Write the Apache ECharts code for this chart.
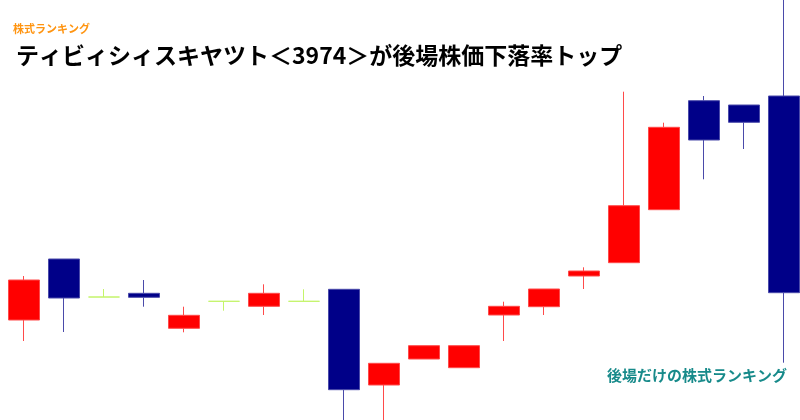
<!DOCTYPE html>
<html>
<head>
<meta charset="utf-8">
<script src="https://cdn.jsdelivr.net/npm/echarts@6/dist/echarts.min.js"></script>
<style>
html,body{margin:0;padding:0;background:#fff;overflow:hidden;width:800px;height:420px;}
#c{width:840px;height:420px;}
</style>
</head>
<body>
<div id="c"></div>
<script>
// categories (20 sessions)
var categories = ['1','2','3','4','5','6','7','8','9','10','11','12','13','14','15','16','17','18','19','20'];
// [open, close, low, high]
var opens  = [100, 161, 123, 126.7, 91.7, 118.7, 113.7, 118.7, 130.7, 35, 61, 52.3, 105, 113.3, 144, 157.3, 210.3, 319.3, 315, 324];
var closes = [140, 122, 123, 122.7, 104.7, 118.7, 126.7, 118.7, 30.3, 56.7, 74.3, 74.3, 113.7, 131, 149, 214.3, 292.7, 280, 297.7, 127.3];
var lows   = [79, 88, 123, 113.3, 87.7, 109.3, 105, 118.7, -20, -20, 61, 52.3, 79, 105, 131, 157.3, 210.3, 240.7, 271, 57.3];
var highs  = [144, 161, 131, 140, 113.3, 118.7, 135.7, 130.7, 130.7, 56.7, 74.3, 74.3, 118.3, 131, 152.7, 328.3, 297.3, 324, 315, 460];

var titleText = 'ティビィシィスキヤツト＜3974＞が後場株価下落率トップ';
var tagText = '株式ランキング';
var footText = '後場だけの株式ランキング';

var UP = '#ff0000', DOWN = '#000088', DOJI = '#c4f46a';
var data = categories.map(function(c, i){
  var item = {value: [opens[i], closes[i], lows[i], highs[i]]};
  if (opens[i] === closes[i]) {
    item.itemStyle = {borderColor: DOJI, borderColor0: DOJI, borderColorDoji: DOJI, color: DOJI, color0: DOJI};
  }
  return item;
});

var chart = echarts.init(document.getElementById('c'));
var ff = '"Noto Sans CJK JP", sans-serif';
chart.setOption({
  animation: false,
  backgroundColor: '#ffffff',
  title: [
    {text: tagText, left: 8, top: 18, textStyle: {fontSize: 11, fontWeight: 'bold', color: '#ff9410', fontFamily: ff}},
    {text: titleText, left: 11, top: 39, textStyle: {fontSize: 23, fontWeight: 'bold', color: '#000000', fontFamily: ff}},
    {text: footText, left: 602, top: 363, textStyle: {fontSize: 15, fontWeight: 'bold', color: '#178a8a', fontFamily: ff}}
  ],
  grid: {left: 4, top: 0, width: 800, height: 420, containLabel: false},
  xAxis: {type: 'category', data: categories, show: false, boundaryGap: true},
  yAxis: {type: 'value', min: 0, max: 420, show: false, splitLine: {show: false}},
  series: [{
    type: 'candlestick',
    data: data,
    barWidth: 32,
    clip: true,
    itemStyle: {
      color: UP, color0: DOWN,
      borderColor: '#ff4a4a', borderColor0: '#4a4aaa',
      borderColorDoji: DOJI,
      borderWidth: 1
    }
  }]
});
</script>
</body>
</html>
